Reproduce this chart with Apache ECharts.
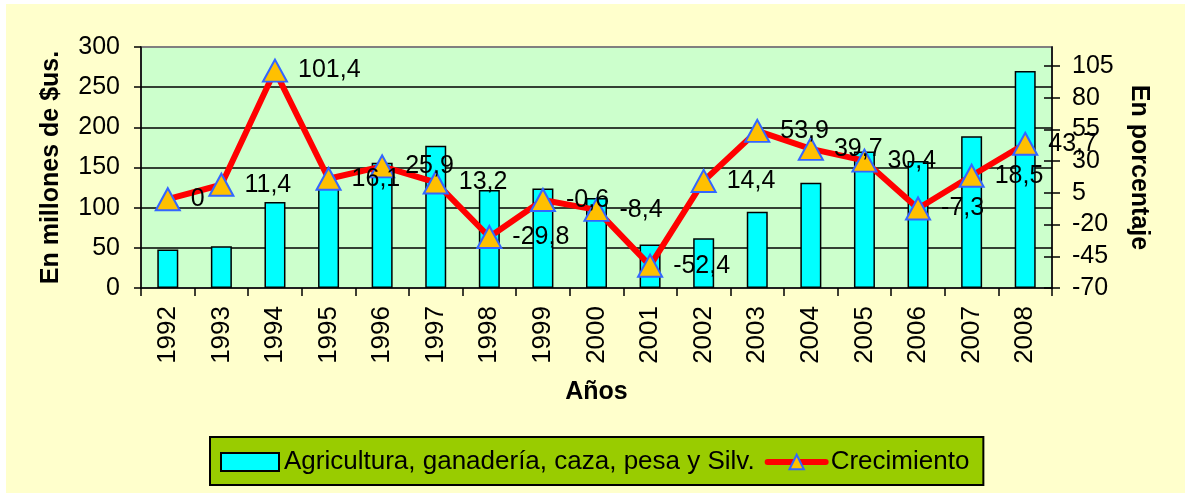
<!DOCTYPE html>
<html>
<head>
<meta charset="utf-8">
<script src="https://cdn.jsdelivr.net/npm/echarts@6/dist/echarts.min.js"></script>
<style>
  html, body { margin: 0; padding: 0; background: #ffffff; }
  #main { position: absolute; left: 6px; top: 4px; width: 1179px; height: 489px; }
</style>
</head>
<body>
<div id="main"></div>
<script>
// datos
var years = ['1992', '1993', '1994', '1995', '1996', '1997', '1998', '1999', '2000',
             '2001', '2002', '2003', '2004', '2005', '2006', '2007', '2008'];
var agricultura = [48, 52, 107, 124, 156, 177, 122, 124, 112, 54, 62, 95, 131, 170, 158, 189, 270];
var crecimiento = [0, 11.4, 101.4, 16.1, 25.9, 13.2, -29.8, -0.6, -8.4, -52.4, 14.4, 53.9, 39.7, 30.4, -7.3, 18.5, 43.7];
var pctTicks = [-70, -45, -20, 5, 30, 55, 80, 105];

var FONT = 'Liberation Sans, Arial, sans-serif';
var FS = 25;

var myChart = echarts.init(document.getElementById('main'));
var option = {
  backgroundColor: '#FFFFCC',
  animation: false,
  textStyle: { fontFamily: FONT, color: '#000' },
  grid: {
    left: 135,
    right: 133,
    top: 43,
    bottom: 205,
    show: true,
    backgroundColor: '#CCFFCC',
    borderColor: '#808080',
    borderWidth: 2
  },
  legend: {
    left: 204,
    top: 433,
    backgroundColor: '#99CC00',
    borderColor: '#000',
    borderWidth: 2,
    padding: [12, 14, 10, 10],
    itemGap: 10,
    itemWidth: 58,
    itemHeight: 18,
    textStyle: { fontFamily: FONT, fontSize: 26, color: '#000' },
    data: [
      { name: 'Agricultura, ganadería, caza, pesa y Silv.', icon: 'rect' },
      { name: 'Crecimiento', lineStyle: { width: 6, cap: 'round' } }
    ]
  },
  xAxis: {
    type: 'category',
    data: years,
    name: 'Años',
    nameLocation: 'middle',
    nameGap: 92,
    nameTextStyle: { fontFamily: FONT, fontSize: FS, fontWeight: 'bold', color: '#000' },
    axisLine: { lineStyle: { color: '#000', width: 1.5 } },
    axisTick: { show: true, interval: 0, length: 8, lineStyle: { color: '#000', width: 1.5 } },
    axisLabel: { rotate: 90, interval: 0, margin: 18, fontFamily: FONT, fontSize: 26, color: '#000' }
  },
  yAxis: [{
    type: 'value',
    min: 0,
    max: 300,
    interval: 50,
    position: 'left',
    name: 'En millones de $us.',
    nameLocation: 'middle',
    nameGap: 77,
    nameTextStyle: { fontFamily: FONT, fontSize: FS, fontWeight: 'bold', color: '#000' },
    axisLine: { show: true, lineStyle: { color: '#000', width: 1.5 } },
    axisTick: { show: true, length: 7, lineStyle: { color: '#000', width: 1.5 } },
    axisLabel: { margin: 21, fontFamily: FONT, fontSize: FS, color: '#000' },
    splitLine: { show: true, showMinLine: false, showMaxLine: false, lineStyle: { color: '#000', width: 1.5 } }
  }, {
    type: 'value',
    min: -70,
    max: 120,
    position: 'right',
    name: 'En porcentaje',
    nameLocation: 'middle',
    nameRotate: -90,
    nameGap: 74,
    nameTextStyle: { fontFamily: FONT, fontSize: FS, fontWeight: 'bold', color: '#000' },
    axisLine: { show: true, lineStyle: { color: '#000', width: 1.5 } },
    axisTick: { show: true, length: 8, customValues: pctTicks, lineStyle: { color: '#000', width: 1.5 } },
    axisLabel: { margin: 20, customValues: pctTicks, fontFamily: FONT, fontSize: FS, color: '#000' },
    splitLine: { show: false }
  }, {
    // solo para las marcas hacia adentro del eje derecho
    type: 'value',
    min: -70,
    max: 120,
    position: 'right',
    axisLine: { show: false },
    axisTick: { show: true, inside: true, length: 8, customValues: pctTicks, lineStyle: { color: '#000', width: 1.5 } },
    axisLabel: { show: false },
    splitLine: { show: false }
  }],
  series: [{
    name: 'Agricultura, ganadería, caza, pesa y Silv.',
    type: 'bar',
    yAxisIndex: 0,
    barWidth: 21,
    itemStyle: { color: '#00FFFF', borderColor: '#000', borderWidth: 1.5 },
    data: agricultura
  }, {
    name: 'Crecimiento',
    type: 'line',
    yAxisIndex: 1,
    symbol: 'triangle',
    symbolSize: [24, 22],
    lineStyle: { color: '#FF0000', width: 6 },
    itemStyle: { color: '#FFC000', borderColor: '#3366FF', borderWidth: 2 },
    label: {
      show: true,
      position: 'right',
      distance: 10,
      fontFamily: FONT,
      fontSize: FS,
      color: '#000',
      formatter: function (p) {
        return String(p.value).replace('.', ',');
      }
    },
    data: crecimiento
  }]
};
myChart.setOption(option);
window.addEventListener('resize', function () {
  myChart.resize();
});
</script>
</body>
</html>
